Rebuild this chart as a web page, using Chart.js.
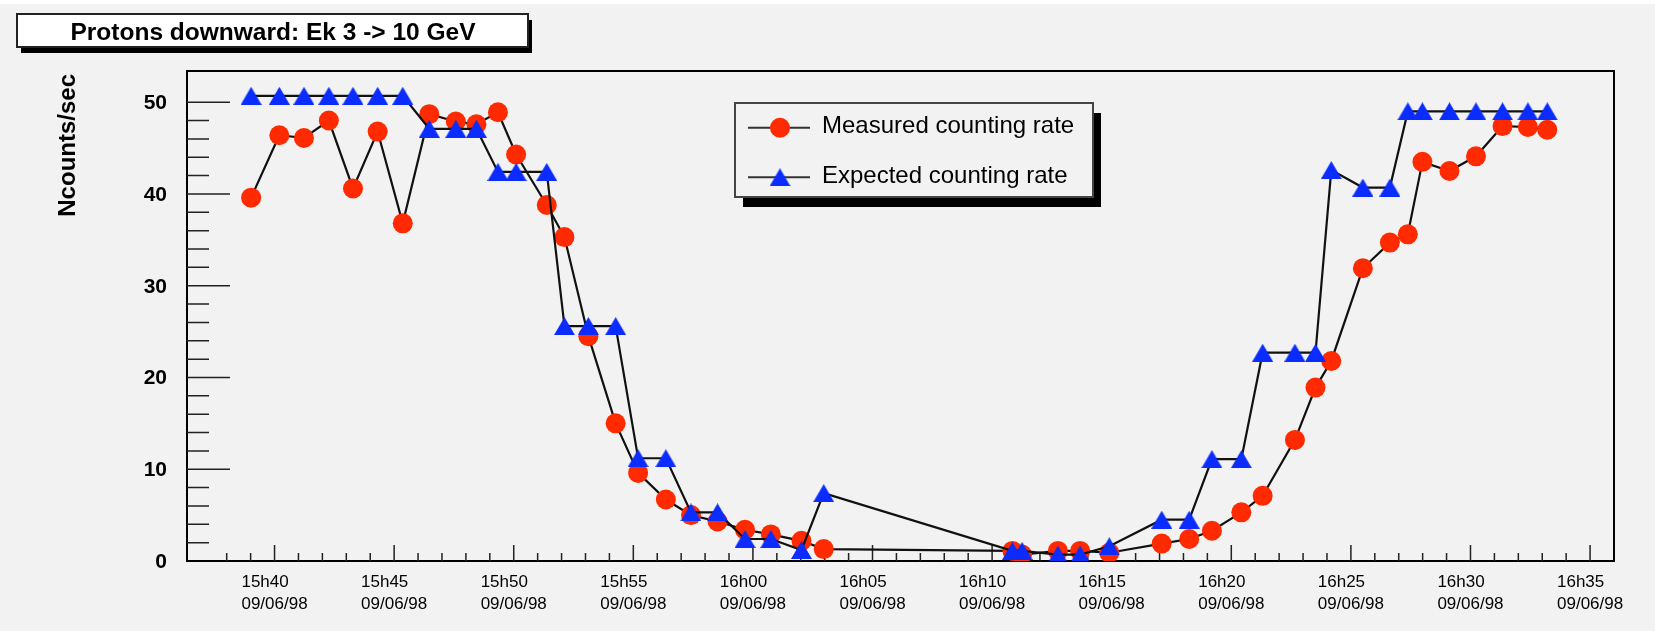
<!DOCTYPE html>
<html>
<head>
<meta charset="UTF-8">
<title>Protons downward</title>
<script src="https://cdn.jsdelivr.net/npm/chart.js@4.4.1/dist/chart.umd.min.js"></script>
<style>
  html, body { margin: 0; padding: 0; background: #f2f2f2; }
  canvas { display: block; }
</style>
</head>
<body>
<canvas id="chart" width="1655" height="631"></canvas>
<script>
// time of each reading, in minutes after 15h00 (09/06/98)
const timeMin = [39.02, 40.20, 41.23, 42.27, 43.28, 44.31, 45.36, 46.47, 47.58, 48.44,
  49.34, 50.10, 51.38, 52.12, 53.12, 54.26, 55.20, 56.36, 57.41, 58.52,
  59.67, 60.75, 62.03, 62.96, 70.85, 71.25, 72.75, 73.68, 74.90, 77.09,
  78.24, 79.19, 80.42, 81.31, 82.66, 83.52, 84.18, 85.50, 86.63, 87.38,
  87.99, 89.12, 90.23, 91.34, 92.40, 93.21];
const measured = [39.6, 46.4, 46.1, 48.0, 40.6, 46.8, 36.8, 48.7, 47.9, 47.6,
  48.9, 44.3, 38.8, 35.3, 24.5, 15.0, 9.6, 6.7, 5.0, 4.3,
  3.4, 2.9, 2.2, 1.3, 1.1, 0.7, 1.1, 1.1, 0.9, 1.9,
  2.4, 3.3, 5.3, 7.1, 13.2, 18.9, 21.8, 31.9, 34.7, 35.6,
  43.5, 42.5, 44.1, 47.4, 47.3, 47.0];
const expected = [50.7, 50.7, 50.7, 50.7, 50.7, 50.7, 50.7, 47.1, 47.1, 47.1,
  42.4, 42.4, 42.4, 25.6, 25.6, 25.6, 11.2, 11.2, 5.3, 5.3,
  2.4, 2.4, 1.2, 7.4, 1.1, 1.1, 0.7, 0.7, 1.6, 4.5,
  4.5, 11.1, 11.1, 22.7, 22.7, 22.7, 42.6, 40.7, 40.7, 49.0,
  49.0, 49.0, 49.0, 49.0, 49.0, 49.0];
const seriesNames = ['Measured counting rate', 'Expected counting rate'];
const dateLabel = '09/06/98';
const titleText = 'Protons downward: Ek 3 -> 10 GeV';
const yTitle = 'Ncounts/sec';
const xRange = [36.34, 96];
const yRange = [0, 53.4];

const FONT = '"Liberation Sans", Arial, sans-serif';
const RED = '#ff2a00';
const BLUE = '#0a2cff';

function triangleMarker(color) {
  const c = document.createElement('canvas');
  c.width = 21; c.height = 18;
  const g = c.getContext('2d');
  g.fillStyle = color;
  g.beginPath();
  g.moveTo(10.5, 0); g.lineTo(21, 18); g.lineTo(0, 18);
  g.closePath();
  g.fill();
  return c;
}
const triangle = triangleMarker(BLUE);

function timeLabel(v) {
  const h = 15 + Math.floor(v / 60);
  const m = Math.round(v % 60);
  return h + 'h' + String(m).padStart(2, '0');
}
const isWhole = v => Math.abs(v - Math.round(v)) < 1e-6;

function shadowBox(ctx, x, y, w, h, dx, dy, fill, stroke) {
  ctx.fillStyle = '#000';
  ctx.fillRect(x + dx, y + dy, w, h);
  ctx.fillStyle = fill;
  ctx.fillRect(x, y, w, h);
  ctx.strokeStyle = stroke;
  ctx.lineWidth = 2;
  ctx.strokeRect(x, y, w, h);
}

const rootStyle = {
  id: 'rootStyle',
  beforeDraw(chart) {
    const ctx = chart.ctx;
    ctx.save();
    ctx.fillStyle = '#f2f2f2';
    ctx.fillRect(0, 0, chart.width, chart.height);
    ctx.fillStyle = '#ffffff';
    ctx.fillRect(0, 0, chart.width, 4);
    ctx.restore();
  },
  beforeDatasetsDraw(chart) {
    const { ctx, chartArea: a, scales: { x, y } } = chart;
    ctx.save();
    ctx.strokeStyle = '#000';
    ctx.lineWidth = 2;
    ctx.strokeRect(a.left, a.top, a.right - a.left, a.bottom - a.top);

    // ticks point inwards, like ROOT
    ctx.lineWidth = 1.5;
    ctx.strokeStyle = '#222';
    ctx.beginPath();
    y.ticks.forEach(t => {
      if (!isWhole(t.value)) return;
      const py = y.getPixelForValue(t.value);
      if (py < a.top + 1 || py > a.bottom - 1) return;
      const len = t.value % 10 === 0 ? 43 : 22;
      ctx.moveTo(a.left, py); ctx.lineTo(a.left + len, py);
    });
    x.ticks.forEach(t => {
      if (!isWhole(t.value)) return;
      const px = x.getPixelForValue(t.value);
      if (px < a.left + 1 || px > a.right - 1) return;
      const len = t.value % 5 === 0 ? 16 : 8;
      ctx.moveTo(px, a.bottom); ctx.lineTo(px, a.bottom - len);
    });
    ctx.stroke();

    ctx.fillStyle = '#000';
    ctx.font = 'bold 21px ' + FONT;
    ctx.textAlign = 'right';
    ctx.textBaseline = 'middle';
    y.ticks.forEach(t => {
      if (!isWhole(t.value) || t.value % 10 !== 0) return;
      ctx.fillText(String(Math.round(t.value)), 167, y.getPixelForValue(t.value) + 1);
    });

    ctx.font = '17px ' + FONT;
    ctx.textAlign = 'left';
    ctx.textBaseline = 'alphabetic';
    const dw = ctx.measureText(dateLabel).width;
    x.ticks.forEach(t => {
      if (!isWhole(t.value) || t.value % 5 !== 0) return;
      const left = x.getPixelForValue(t.value) - dw / 2;
      ctx.fillText(timeLabel(t.value), left, a.bottom + 26);
      ctx.fillText(dateLabel, left, a.bottom + 47.5);
    });

    ctx.save();
    ctx.translate(75, 74);
    ctx.rotate(-Math.PI / 2);
    ctx.font = 'bold 24px ' + FONT;
    ctx.textAlign = 'right';
    ctx.fillText(yTitle, 0, 0);
    ctx.restore();
    ctx.restore();
  },
  afterDraw(chart) {
    const ctx = chart.ctx;
    ctx.save();
    // title pave
    shadowBox(ctx, 17, 14, 511, 33, 4, 6, '#ffffff', '#222');
    ctx.fillStyle = '#000';
    ctx.font = 'bold 24.5px ' + FONT;
    ctx.textAlign = 'center';
    ctx.textBaseline = 'alphabetic';
    ctx.fillText(titleText, 273, 40);

    // legend
    shadowBox(ctx, 735, 103, 358, 94, 8, 10, '#f2f2f2', '#444');
    const rows = [127.7, 177.3];
    ctx.font = '24px ' + FONT;
    ctx.textAlign = 'left';
    rows.forEach((ry, i) => {
      ctx.strokeStyle = '#333';
      ctx.lineWidth = 2;
      ctx.beginPath();
      ctx.moveTo(748, ry); ctx.lineTo(810, ry);
      ctx.stroke();
      if (i === 0) {
        ctx.fillStyle = RED;
        ctx.beginPath();
        ctx.arc(780, ry, 10, 0, Math.PI * 2);
        ctx.fill();
      } else {
        ctx.drawImage(triangle, 780 - triangle.width / 2, ry - triangle.height / 2);
      }
      ctx.fillStyle = '#000';
      ctx.fillText(seriesNames[i], 822, ry + 5.5);
    });
    ctx.restore();
  }
};

new Chart(document.getElementById('chart'), {
  type: 'line',
  data: {
    datasets: [
      {
        label: seriesNames[0],
        data: timeMin.map((t, i) => ({ x: t, y: measured[i] })),
        borderColor: '#111',
        borderWidth: 2.2,
        pointStyle: 'circle',
        pointRadius: 10,
        pointBackgroundColor: RED,
        pointBorderWidth: 0,
        order: 2
      },
      {
        label: seriesNames[1],
        data: timeMin.map((t, i) => ({ x: t, y: expected[i] })),
        borderColor: '#111',
        borderWidth: 2.2,
        pointStyle: triangle,
        pointRadius: 10,
        pointBackgroundColor: BLUE,
        pointBorderWidth: 0,
        order: 1
      }
    ]
  },
  options: {
    responsive: false,
    animation: false,
    devicePixelRatio: 1,
    events: [],
    layout: { padding: { left: 179, right: 41, top: 71, bottom: 62 } },
    plugins: { legend: { display: false }, tooltip: { enabled: false } },
    scales: {
      x: {
        type: 'linear', min: xRange[0], max: xRange[1],
        ticks: { display: false, stepSize: 1 },
        grid: { display: false }, border: { display: false }
      },
      y: {
        type: 'linear', min: yRange[0], max: yRange[1],
        ticks: { display: false, stepSize: 2 },
        grid: { display: false }, border: { display: false }
      }
    }
  },
  plugins: [rootStyle]
});
</script>
</body>
</html>
